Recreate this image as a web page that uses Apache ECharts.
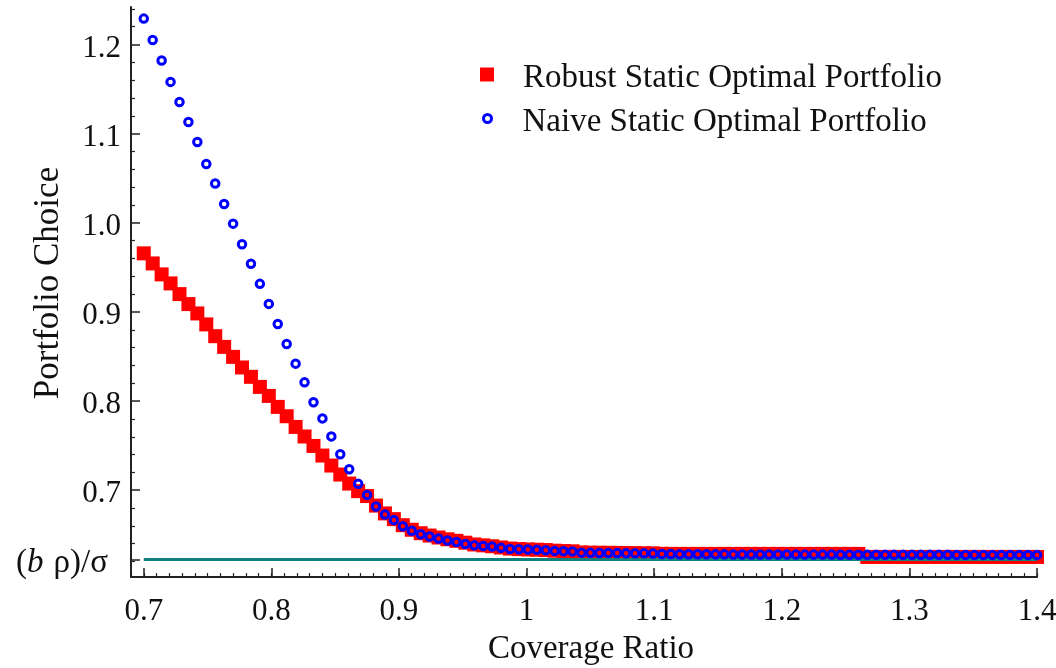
<!DOCTYPE html>
<html>
<head>
<meta charset="utf-8">
<script src="https://cdn.jsdelivr.net/npm/echarts@6/dist/echarts.min.js"></script>
<style>
  html, body { margin: 0; padding: 0; background: #ffffff; }
  #chart { width: 1056px; height: 668px; }
</style>
</head>
<body>
<div id="chart"></div>
<script>
// Coverage ratio grid (0.7 to 1.4 in steps of 0.007)
const coverage = [
  0.700, 0.707, 0.714, 0.721, 0.728, 0.735, 0.742, 0.749, 0.756, 0.763,
  0.770, 0.777, 0.784, 0.791, 0.798, 0.805, 0.812, 0.819, 0.826, 0.833,
  0.840, 0.847, 0.854, 0.861, 0.868, 0.875, 0.882, 0.889, 0.896, 0.903,
  0.910, 0.917, 0.924, 0.931, 0.938, 0.945, 0.952, 0.959, 0.966, 0.973,
  0.980, 0.987, 0.994, 1.001, 1.008, 1.015, 1.022, 1.029, 1.036, 1.043,
  1.050, 1.057, 1.064, 1.071, 1.078, 1.085, 1.092, 1.099, 1.106, 1.113,
  1.120, 1.127, 1.134, 1.141, 1.148, 1.155, 1.162, 1.169, 1.176, 1.183,
  1.190, 1.197, 1.204, 1.211, 1.218, 1.225, 1.232, 1.239, 1.246, 1.253,
  1.260, 1.267, 1.274, 1.281, 1.288, 1.295, 1.302, 1.309, 1.316, 1.323,
  1.330, 1.337, 1.344, 1.351, 1.358, 1.365, 1.372, 1.379, 1.386, 1.393,
  1.400
];

// Robust static optimal portfolio weights
const robust = [
  0.9657, 0.9544, 0.9421, 0.9320, 0.9200, 0.9088, 0.8983, 0.8860, 0.8728, 0.8608,
  0.8496, 0.8377, 0.8272, 0.8159, 0.8058, 0.7935, 0.7830, 0.7710, 0.7603, 0.7497,
  0.7389, 0.7277, 0.7176, 0.7075, 0.6990, 0.6935, 0.6828, 0.6740, 0.6676, 0.6608,
  0.6557, 0.6518, 0.6492, 0.6470, 0.6450, 0.6433, 0.6412, 0.6392, 0.6382, 0.6372,
  0.6358, 0.6346, 0.6340, 0.6336, 0.6333, 0.6329, 0.6322, 0.6318, 0.6315, 0.6302,
  0.6300, 0.6299, 0.6298, 0.6297, 0.6296, 0.6295, 0.6293, 0.6292, 0.6287, 0.6286,
  0.6286, 0.6286, 0.6286, 0.6286, 0.6286, 0.6286, 0.6286, 0.6286, 0.6286, 0.6286,
  0.6286, 0.6286, 0.6286, 0.6286, 0.6286, 0.6286, 0.6286, 0.6286, 0.6286, 0.6286,
  0.6286, 0.6252, 0.6252, 0.6252, 0.6252, 0.6252, 0.6252, 0.6252, 0.6252, 0.6252,
  0.6252, 0.6252, 0.6252, 0.6252, 0.6252, 0.6252, 0.6252, 0.6252, 0.6252, 0.6252,
  0.6252
];

// Naive static optimal portfolio weights
const naive = [
  1.2290, 1.2050, 1.1820, 1.1580, 1.1355, 1.1130, 1.0905, 1.0660, 1.0440, 1.0210,
  0.9990, 0.9760, 0.9540, 0.9315, 0.9090, 0.8865, 0.8640, 0.8420, 0.8210, 0.7987,
  0.7806, 0.7604, 0.7404, 0.7236, 0.7073, 0.6948, 0.6818, 0.6728, 0.6665, 0.6596,
  0.6545, 0.6506, 0.6481, 0.6459, 0.6437, 0.6420, 0.6398, 0.6382, 0.6375, 0.6368,
  0.6354, 0.6342, 0.6338, 0.6335, 0.6332, 0.6328, 0.6320, 0.6317, 0.6314, 0.6300,
  0.6298, 0.6297, 0.6296, 0.6295, 0.6294, 0.6293, 0.6292, 0.6291, 0.6285, 0.6284,
  0.6283, 0.6283, 0.6282, 0.6282, 0.6281, 0.6281, 0.6280, 0.6280, 0.6280, 0.6279,
  0.6279, 0.6279, 0.6279, 0.6278, 0.6278, 0.6278, 0.6278, 0.6278, 0.6277, 0.6277,
  0.6277, 0.6277, 0.6277, 0.6277, 0.6276, 0.6276, 0.6276, 0.6276, 0.6276, 0.6276,
  0.6276, 0.6275, 0.6275, 0.6275, 0.6275, 0.6275, 0.6275, 0.6275, 0.6275, 0.6275,
  0.6275
];

// Asymptotic level (b rho)/sigma and the range it is drawn over
const baselineValue = 0.6222;
const baselineRange = [0.7, 1.4];

// Axis ticks
const xTickValues = [0.7, 0.8, 0.9, 1.0, 1.1, 1.2, 1.3, 1.4];
const yTickValues = [baselineValue, 0.7, 0.8, 0.9, 1.0, 1.1, 1.2];
const yMinorTickValues = [
  0.62, 0.64, 0.66, 0.68, 0.72, 0.74, 0.76, 0.78, 0.82, 0.84, 0.86, 0.88,
  0.92, 0.94, 0.96, 0.98, 1.02, 1.04, 1.06, 1.08, 1.12, 1.14, 1.16, 1.18, 1.22, 1.24
];

const seriesNames = ['Robust Static Optimal Portfolio', 'Naive Static Optimal Portfolio'];
const axisNames = { x: 'Coverage Ratio', y: 'Portfolio Choice' };

const FONT = '"Liberation Serif", "Times New Roman", serif';
const INK = '#111111';
const X_RANGE = [0.69, 1.4];
const Y_RANGE = [0.6027, 1.242];

const chart = echarts.init(document.getElementById('chart'), null, { renderer: 'canvas' });

const pair = (xs, ys) => xs.map((x, i) => [x, ys[i]]);

// Legend text sits a few pixels below its marker
const legendText = {
  formatter: name => '{t|' + name + '}',
  textStyle: {
    fontFamily: FONT, fontSize: 33, color: INK,
    rich: { t: { fontFamily: FONT, fontSize: 33, color: INK, padding: [8, 0, 0, 0] } }
  }
};

const option = {
  backgroundColor: '#ffffff',
  animation: false,
  grid: { left: 131, right: 19, top: 7, bottom: 91, containLabel: false, outerBoundsMode: 'none' },
  legend: [
    {
      data: [seriesNames[0]],
      orient: 'vertical',
      left: 480, top: 62, padding: 0,
      itemWidth: 14, itemHeight: 14, itemGap: 0,
      selectedMode: false,
      itemStyle: { color: '#ff0000', opacity: 1 },
      formatter: legendText.formatter,
      textStyle: Object.assign({}, legendText.textStyle, { padding: [0, 0, 0, 24] })
    },
    {
      data: [seriesNames[1]],
      orient: 'vertical',
      left: 482, top: 106, padding: 0,
      itemWidth: 8, itemHeight: 8, itemGap: 0,
      selectedMode: false,
      itemStyle: { color: 'rgba(0,0,0,0)', borderColor: '#0000ff', borderWidth: 3, opacity: 1 },
      formatter: legendText.formatter,
      textStyle: Object.assign({}, legendText.textStyle, { padding: [0, 0, 0, 26] })
    }
  ],
  xAxis: [
    {
      type: 'value', position: 'bottom',
      min: X_RANGE[0], max: X_RANGE[1],
      splitLine: { show: false },
      axisLine: { show: true, onZero: false, lineStyle: { color: '#222222', width: 2 } },
      axisTick: { show: true, inside: true, length: 9, customValues: xTickValues,
                  lineStyle: { color: '#222222', width: 1.5 } },
      axisLabel: {
        show: true, customValues: xTickValues, margin: 19,
        fontFamily: FONT, fontSize: 31, color: INK,
        formatter: v => String(Math.round(v * 10) / 10)
      },
      name: axisNames.x, nameLocation: 'middle', nameGap: 56, nameMoveOverlap: false,
      nameTextStyle: { fontFamily: FONT, fontSize: 33, color: INK, padding: [0, 0, 0, 14] }
    },
    {
      type: 'value', position: 'bottom',
      min: X_RANGE[0], max: X_RANGE[1], interval: 0.01,
      splitLine: { show: false },
      axisLine: { show: false },
      axisTick: { show: true, inside: true, length: 4, lineStyle: { color: '#222222', width: 1.2 } },
      axisLabel: { show: false }
    }
  ],
  yAxis: [
    {
      type: 'value', position: 'left',
      min: Y_RANGE[0], max: Y_RANGE[1],
      splitLine: { show: false },
      axisLine: { show: true, onZero: false, lineStyle: { color: '#222222', width: 2 } },
      axisTick: { show: true, inside: true, length: 9, customValues: yTickValues,
                  lineStyle: { color: '#222222', width: 1.5 } },
      axisLabel: {
        show: true, customValues: yTickValues, margin: 10,
        fontFamily: FONT, fontSize: 31, color: INK,
        formatter: v => Math.abs(v - baselineValue) < 1e-9
          ? '{n|(}{it|b}{sp| }{n|\u03c1)/\u03c3}{gap| }'
          : '{v|' + v.toFixed(1) + '}',
        rich: {
          v: { fontFamily: FONT, fontSize: 31, color: INK, padding: [8, 0, 0, 0] },
          n: { fontFamily: FONT, fontSize: 33, color: INK, padding: [8, 0, 0, 0] },
          it: { fontFamily: FONT, fontSize: 33, fontStyle: 'italic', color: INK, padding: [8, 0, 0, 0] },
          sp: { fontFamily: FONT, fontSize: 33, width: 10, padding: [8, 0, 0, 0] },
          gap: { fontFamily: FONT, fontSize: 33, width: 13, padding: [8, 0, 0, 0] }
        }
      },
      name: axisNames.y, nameLocation: 'middle', nameGap: 65, nameMoveOverlap: false,
      nameTextStyle: { fontFamily: FONT, fontSize: 35, color: INK, padding: [0, 0, 0, 18] }
    },
    {
      type: 'value', position: 'left',
      min: Y_RANGE[0], max: Y_RANGE[1],
      splitLine: { show: false },
      axisLine: { show: false },
      axisTick: { show: true, inside: true, length: 4, customValues: yMinorTickValues,
                  lineStyle: { color: '#222222', width: 1.2 } },
      axisLabel: { show: false }
    }
  ],
  series: [
    {
      name: seriesNames[0], type: 'scatter', xAxisIndex: 0, yAxisIndex: 0,
      data: pair(coverage, robust),
      symbol: 'rect', symbolSize: 14,
      itemStyle: { color: '#ff0000', opacity: 1 },
      emphasis: { disabled: true }, silent: true, z: 2
    },
    {
      name: 'baseline', type: 'line', xAxisIndex: 0, yAxisIndex: 0,
      data: [[baselineRange[0], baselineValue], [baselineRange[1], baselineValue]],
      showSymbol: false, symbol: 'none',
      lineStyle: { color: '#0f7f80', width: 3 },
      emphasis: { disabled: true }, silent: true, z: 3
    },
    {
      name: seriesNames[1], type: 'scatter', xAxisIndex: 0, yAxisIndex: 0,
      data: pair(coverage, naive),
      symbol: 'circle', symbolSize: 7.5,
      itemStyle: { color: 'rgba(0,0,0,0)', borderColor: '#0000ff', borderWidth: 3, opacity: 1 },
      emphasis: { disabled: true }, silent: true, z: 4
    }
  ]
};

chart.setOption(option);
</script>
</body>
</html>
